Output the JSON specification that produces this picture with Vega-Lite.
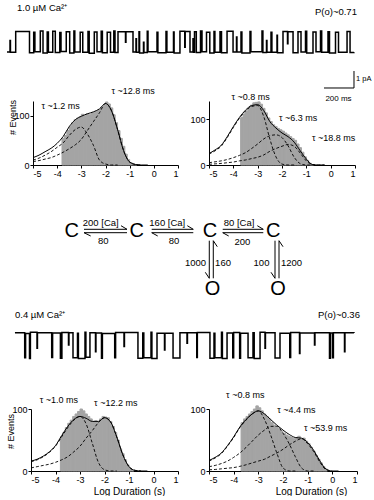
{
"$schema": "https://vega.github.io/schema/vega-lite/v6.json",
"padding": 0,
"bounds": "flush",
"spacing": 0,
"config": {
  "view": {"stroke": null},
  "font": "Liberation Sans",
  "axis": {"labelFont": "Liberation Sans", "labelFontSize": 9, "labelColor": "black", "domainColor": "black", "tickColor": "black", "grid": false, "tickSize": 3, "labelPadding": 1, "titleFont": "Liberation Sans", "titleFontWeight": "normal", "titleColor": "black", "titleFontSize": 10},
  "text": {"font": "Liberation Sans", "color": "black"}
},
"datasets": {
  "trace1": [
    {"t":0,"v":-1.18},{"t":58,"v":0.03},{"t":150,"v":-1.22},{"t":178,"v":-0.02},{"t":186,"v":-1.16},{"t":222,"v":0.05},{"t":240,"v":-1.24},{"t":268,"v":0.0},{"t":276,"v":-1.19},{"t":305,"v":0.04},{"t":322,"v":-1.21},{"t":352,"v":-0.03},{"t":360,"v":-1.15},{"t":395,"v":0.02},{"t":418,"v":-1.23},{"t":446,"v":0.05},{"t":452,"v":-1.18},{"t":488,"v":-0.01},{"t":505,"v":-1.2},{"t":540,"v":0.03},{"t":548,"v":-1.25},{"t":582,"v":0.0},{"t":600,"v":-1.17},{"t":628,"v":0.04},{"t":636,"v":-1.22},{"t":668,"v":-0.02},{"t":690,"v":-1.19},{"t":712,"v":0.05},{"t":720,"v":-1.21},{"t":740,"v":0.02},{"t":840,"v":-1.18},{"t":880,"v":0.01},{"t":884,"v":-1.23},{"t":935,"v":0.04},{"t":940,"v":-1.17},{"t":1000,"v":-0.02},{"t":1006,"v":-1.22},{"t":1060,"v":0.03},{"t":1066,"v":-1.19},{"t":1110,"v":0.0},{"t":1114,"v":-1.24},{"t":1153,"v":0.04},{"t":1220,"v":-1.18},{"t":1250,"v":0.01},{"t":1262,"v":-1.21},{"t":1290,"v":0.05},{"t":1300,"v":-1.16},{"t":1330,"v":-0.01},{"t":1352,"v":-1.23},{"t":1380,"v":0.03},{"t":1386,"v":-1.19},{"t":1420,"v":0.02},{"t":1430,"v":-1.22},{"t":1467,"v":0.04},{"t":1507,"v":-1.18},{"t":1560,"v":0.0},{"t":1566,"v":-1.24},{"t":1620,"v":0.03},{"t":1626,"v":-1.17},{"t":1700,"v":0.05},{"t":1706,"v":-1.21},{"t":1760,"v":-0.02},{"t":1766,"v":-1.19},{"t":1840,"v":0.03},{"t":1907,"v":-1.22},{"t":1940,"v":0.01},{"t":1960,"v":-1.18},{"t":1990,"v":0.04},{"t":1998,"v":-1.23},{"t":2040,"v":0.0},{"t":2060,"v":-1.17},{"t":2090,"v":0.05},{"t":2098,"v":-1.2},{"t":2140,"v":0.02},{"t":2150,"v":-1.24},{"t":2190,"v":-0.01},{"t":2210,"v":-1.19},{"t":2267,"v":0.03},{"t":2287,"v":-1.21},{"t":2313,"v":-1.2},
    {"t":20,"v":-0.5},{"t":23,"v":-1.2},{"t":860,"v":-0.4},{"t":863,"v":-1.19},{"t":910,"v":-0.6},{"t":913,"v":-1.21},{"t":1530,"v":-0.3},{"t":1533,"v":-1.18},{"t":1730,"v":-0.5},{"t":1733,"v":-1.2},{"t":1800,"v":-0.2},{"t":1803,"v":-1.22},{"t":1240,"v":-0.4},{"t":1243,"v":-1.2},{"t":790,"v":-0.6},{"t":793,"v":0.02},{"t":1185,"v":-0.9},{"t":1188,"v":0.03},{"t":1870,"v":-0.7},{"t":1873,"v":0.01}
  ],
  "trace2": [
    {"t":53,"v":0.02},{"t":118,"v":-1.45},{"t":124,"v":-0.03},{"t":150,"v":-1.5},{"t":156,"v":0.04},{"t":298,"v":-1.44},{"t":304,"v":0.0},{"t":356,"v":-1.49},{"t":366,"v":0.03},{"t":440,"v":-1.46},{"t":470,"v":-0.02},{"t":476,"v":-1.5},{"t":520,"v":0.04},{"t":526,"v":-1.43},{"t":553,"v":0.01},{"t":630,"v":-1.48},{"t":636,"v":-0.03},{"t":718,"v":-1.46},{"t":724,"v":0.03},{"t":873,"v":-1.49},{"t":905,"v":0.0},{"t":912,"v":-1.45},{"t":960,"v":0.04},{"t":966,"v":-1.5},{"t":1000,"v":-0.02},{"t":1107,"v":-1.47},{"t":1153,"v":0.02},{"t":1265,"v":-1.44},{"t":1269,"v":0.03},{"t":1353,"v":-1.49},{"t":1380,"v":-0.01},{"t":1386,"v":-1.46},{"t":1430,"v":0.04},{"t":1436,"v":-1.5},{"t":1467,"v":0.0},{"t":1505,"v":-1.45},{"t":1511,"v":0.03},{"t":1551,"v":-1.48},{"t":1557,"v":-0.02},{"t":1607,"v":-1.46},{"t":1640,"v":0.02},{"t":1648,"v":-1.5},{"t":1687,"v":0.04},{"t":1787,"v":-1.47},{"t":1820,"v":-0.01},{"t":1885,"v":-1.44},{"t":1891,"v":0.03},{"t":2150,"v":-1.49},{"t":2156,"v":0.0},{"t":2170,"v":-1.46},{"t":2176,"v":0.02},{"t":2313,"v":0.0},
    {"t":200,"v":-0.9},{"t":203,"v":0.01},{"t":410,"v":-0.7},{"t":413,"v":0.02},{"t":590,"v":-1.1},{"t":593,"v":0.0},{"t":780,"v":-0.8},{"t":783,"v":0.03},{"t":1050,"v":-1.0},{"t":1053,"v":-0.01},{"t":1200,"v":-0.6},{"t":1203,"v":0.02},{"t":1720,"v":-0.9},{"t":1723,"v":0.01},{"t":1950,"v":-1.2},{"t":1953,"v":0.0},{"t":2050,"v":-0.7},{"t":2053,"v":0.02},{"t":2250,"v":-1.1},{"t":2253,"v":0.01}
  ],
  "bars1": [
    {"t":2313.3,"v":-2.295,"t2":2313.3,"v2":-3.295},{"t":2113.3,"v":-3.295,"t2":2313.3,"v2":-3.295}
  ],
  "tl_bars": [
    {"x":-3.8,"xe":-3.7,"y":54},{"x":-3.7,"xe":-3.6,"y":60},{"x":-3.6,"xe":-3.5,"y":70},{"x":-3.5,"xe":-3.4,"y":78},{"x":-3.4,"xe":-3.3,"y":86},{"x":-3.3,"xe":-3.2,"y":92},{"x":-3.2,"xe":-3.1,"y":95},{"x":-3.1,"xe":-3.0,"y":98},{"x":-3.0,"xe":-2.9,"y":103},{"x":-2.9,"xe":-2.8,"y":100},{"x":-2.8,"xe":-2.7,"y":104},{"x":-2.7,"xe":-2.6,"y":102},{"x":-2.6,"xe":-2.5,"y":106},{"x":-2.5,"xe":-2.4,"y":107},{"x":-2.4,"xe":-2.3,"y":110},{"x":-2.3,"xe":-2.2,"y":112},{"x":-2.2,"xe":-2.1,"y":117},{"x":-2.1,"xe":-2.0,"y":121},{"x":-2.0,"xe":-1.9,"y":128},{"x":-1.9,"xe":-1.8,"y":124},{"x":-1.8,"xe":-1.7,"y":116},{"x":-1.7,"xe":-1.6,"y":102},{"x":-1.6,"xe":-1.5,"y":86},{"x":-1.5,"xe":-1.4,"y":70},{"x":-1.4,"xe":-1.3,"y":54},{"x":-1.3,"xe":-1.2,"y":38},{"x":-1.2,"xe":-1.1,"y":22},{"x":-1.1,"xe":-1.0,"y":11},{"x":-1.0,"xe":-0.9,"y":5},{"x":-0.9,"xe":-0.8,"y":2},{"x":-0.8,"xe":-0.7,"y":1}
  ],
  "tl_total": [
    {"x":-5,"y":15},{"x":-4.75,"y":20},{"x":-4.5,"y":27},{"x":-4.25,"y":34},{"x":-4,"y":44},{"x":-3.75,"y":58},{"x":-3.5,"y":78},{"x":-3.25,"y":92},{"x":-3,"y":99},{"x":-2.75,"y":104},{"x":-2.5,"y":108},{"x":-2.25,"y":114},{"x":-2,"y":125},{"x":-1.75,"y":110},{"x":-1.5,"y":72},{"x":-1.25,"y":29},{"x":-1,"y":6},{"x":-0.75,"y":1},{"x":-0.5,"y":0},{"x":-0.25,"y":0}
  ],
  "tl_comp": [
    {"c":"a","x":-5,"y":10},{"c":"a","x":-4.75,"y":14},{"c":"a","x":-4.5,"y":20},{"c":"a","x":-4.25,"y":27},{"c":"a","x":-4,"y":36},{"c":"a","x":-3.75,"y":45},{"c":"a","x":-3.5,"y":60},{"c":"a","x":-3.25,"y":72},{"c":"a","x":-3,"y":77},{"c":"a","x":-2.75,"y":63},{"c":"a","x":-2.5,"y":40},{"c":"a","x":-2.25,"y":10},{"c":"a","x":-2,"y":2},{"c":"a","x":-1.75,"y":0},{"c":"a","x":-1.5,"y":0},
    {"c":"b","x":-5,"y":7},{"c":"b","x":-4.75,"y":9},{"c":"b","x":-4.5,"y":12},{"c":"b","x":-4.25,"y":15},{"c":"b","x":-4,"y":20},{"c":"b","x":-3.75,"y":26},{"c":"b","x":-3.5,"y":33},{"c":"b","x":-3.25,"y":41},{"c":"b","x":-3,"y":52},{"c":"b","x":-2.75,"y":70},{"c":"b","x":-2.5,"y":88},{"c":"b","x":-2.25,"y":106},{"c":"b","x":-2,"y":125},{"c":"b","x":-1.75,"y":110},{"c":"b","x":-1.5,"y":72},{"c":"b","x":-1.25,"y":29},{"c":"b","x":-1,"y":6},{"c":"b","x":-0.75,"y":1},{"c":"b","x":-0.5,"y":0}
  ],
  "tl_lab": [
    {"x":-3.86,"y":119,"label":"τ ~1.2 ms"},{"x":-0.86,"y":151,"label":"τ ~12.8 ms"}
  ],
  "tr_bars": [
    {"x":-3.7,"xe":-3.6,"y":104},{"x":-3.6,"xe":-3.5,"y":112},{"x":-3.5,"xe":-3.4,"y":118},{"x":-3.4,"xe":-3.3,"y":124},{"x":-3.3,"xe":-3.2,"y":131},{"x":-3.2,"xe":-3.1,"y":136},{"x":-3.1,"xe":-3.0,"y":137},{"x":-3.0,"xe":-2.9,"y":138},{"x":-2.9,"xe":-2.8,"y":133},{"x":-2.8,"xe":-2.7,"y":124},{"x":-2.7,"xe":-2.6,"y":114},{"x":-2.6,"xe":-2.5,"y":103},{"x":-2.5,"xe":-2.4,"y":95},{"x":-2.4,"xe":-2.3,"y":88},{"x":-2.3,"xe":-2.2,"y":84},{"x":-2.2,"xe":-2.1,"y":80},{"x":-2.1,"xe":-2.0,"y":77},{"x":-2.0,"xe":-1.9,"y":74},{"x":-1.9,"xe":-1.8,"y":70},{"x":-1.8,"xe":-1.7,"y":66},{"x":-1.7,"xe":-1.6,"y":62},{"x":-1.6,"xe":-1.5,"y":58},{"x":-1.5,"xe":-1.4,"y":54},{"x":-1.4,"xe":-1.3,"y":46},{"x":-1.3,"xe":-1.2,"y":38},{"x":-1.2,"xe":-1.1,"y":28},{"x":-1.1,"xe":-1.0,"y":18},{"x":-1.0,"xe":-0.9,"y":10},{"x":-0.9,"xe":-0.8,"y":4},{"x":-0.8,"xe":-0.7,"y":1}
  ],
  "tr_total": [
    {"x":-5,"y":25},{"x":-4.75,"y":33},{"x":-4.5,"y":43},{"x":-4.25,"y":62},{"x":-4,"y":84},{"x":-3.75,"y":104},{"x":-3.5,"y":120},{"x":-3.25,"y":130},{"x":-3,"y":132},{"x":-2.75,"y":119},{"x":-2.5,"y":95},{"x":-2.25,"y":81},{"x":-2,"y":70},{"x":-1.75,"y":62},{"x":-1.5,"y":50},{"x":-1.25,"y":31},{"x":-1,"y":13},{"x":-0.75,"y":1},{"x":-0.5,"y":0},{"x":-0.25,"y":0}
  ],
  "tr_comp": [
    {"c":"a","x":-5,"y":24},{"c":"a","x":-4.75,"y":31},{"c":"a","x":-4.5,"y":41},{"c":"a","x":-4.25,"y":60},{"c":"a","x":-4,"y":82},{"c":"a","x":-3.75,"y":102},{"c":"a","x":-3.5,"y":118},{"c":"a","x":-3.25,"y":128},{"c":"a","x":-3,"y":130},{"c":"a","x":-2.75,"y":106},{"c":"a","x":-2.5,"y":57},{"c":"a","x":-2.25,"y":18},{"c":"a","x":-2,"y":2},{"c":"a","x":-1.75,"y":0},{"c":"a","x":-1.5,"y":0},
    {"c":"b","x":-5,"y":5},{"c":"b","x":-4.75,"y":7},{"c":"b","x":-4.5,"y":9},{"c":"b","x":-4.25,"y":12},{"c":"b","x":-4,"y":16},{"c":"b","x":-3.75,"y":21},{"c":"b","x":-3.5,"y":27},{"c":"b","x":-3.25,"y":36},{"c":"b","x":-3,"y":46},{"c":"b","x":-2.75,"y":57},{"c":"b","x":-2.5,"y":64},{"c":"b","x":-2.25,"y":66},{"c":"b","x":-2,"y":60},{"c":"b","x":-1.75,"y":42},{"c":"b","x":-1.5,"y":17},{"c":"b","x":-1.25,"y":3},{"c":"b","x":-1,"y":0},{"c":"b","x":-0.75,"y":0},
    {"c":"c","x":-5,"y":1.5},{"c":"c","x":-4.75,"y":2.5},{"c":"c","x":-4.5,"y":3.5},{"c":"c","x":-4.25,"y":5},{"c":"c","x":-4,"y":6.5},{"c":"c","x":-3.75,"y":9},{"c":"c","x":-3.5,"y":11},{"c":"c","x":-3.25,"y":14},{"c":"c","x":-3,"y":17},{"c":"c","x":-2.75,"y":22},{"c":"c","x":-2.5,"y":30},{"c":"c","x":-2.25,"y":36},{"c":"c","x":-2,"y":41},{"c":"c","x":-1.75,"y":45},{"c":"c","x":-1.5,"y":41},{"c":"c","x":-1.25,"y":26},{"c":"c","x":-1,"y":9},{"c":"c","x":-0.75,"y":1},{"c":"c","x":-0.5,"y":0},{"c":"c","x":-0.25,"y":0}
  ],
  "tr_lab": [
    {"x":-3.29,"y":149.5,"label":"τ ~0.8 ms"},{"x":-1.34,"y":103.5,"label":"τ ~6.3 ms"},{"x":0.12,"y":58,"label":"τ ~18.8 ms"}
  ],
  "bl_bars": [
    {"x":-3.8,"xe":-3.7,"y":55},{"x":-3.7,"xe":-3.6,"y":62},{"x":-3.6,"xe":-3.5,"y":70},{"x":-3.5,"xe":-3.4,"y":77},{"x":-3.4,"xe":-3.3,"y":82},{"x":-3.3,"xe":-3.2,"y":88},{"x":-3.2,"xe":-3.1,"y":92},{"x":-3.1,"xe":-3.0,"y":96},{"x":-3.0,"xe":-2.9,"y":100},{"x":-2.9,"xe":-2.8,"y":97},{"x":-2.8,"xe":-2.7,"y":92},{"x":-2.7,"xe":-2.6,"y":88},{"x":-2.6,"xe":-2.5,"y":84},{"x":-2.5,"xe":-2.4,"y":80},{"x":-2.4,"xe":-2.3,"y":81},{"x":-2.3,"xe":-2.2,"y":79},{"x":-2.2,"xe":-2.1,"y":84},{"x":-2.1,"xe":-2.0,"y":88},{"x":-2.0,"xe":-1.9,"y":87},{"x":-1.9,"xe":-1.8,"y":86},{"x":-1.8,"xe":-1.7,"y":80},{"x":-1.7,"xe":-1.6,"y":72},{"x":-1.6,"xe":-1.5,"y":62},{"x":-1.5,"xe":-1.4,"y":50},{"x":-1.4,"xe":-1.3,"y":36},{"x":-1.3,"xe":-1.2,"y":28},{"x":-1.2,"xe":-1.1,"y":18},{"x":-1.1,"xe":-1.0,"y":10},{"x":-1.0,"xe":-0.9,"y":4},{"x":-0.9,"xe":-0.8,"y":1}
  ],
  "bl_total": [
    {"x":-5,"y":16},{"x":-4.75,"y":19},{"x":-4.5,"y":24},{"x":-4.25,"y":31},{"x":-4,"y":41},{"x":-3.75,"y":57},{"x":-3.5,"y":72},{"x":-3.25,"y":83},{"x":-3,"y":88},{"x":-2.75,"y":85},{"x":-2.5,"y":80},{"x":-2.25,"y":80},{"x":-2,"y":86},{"x":-1.75,"y":79},{"x":-1.5,"y":55},{"x":-1.25,"y":26},{"x":-1,"y":7},{"x":-0.75,"y":1},{"x":-0.5,"y":0},{"x":-0.25,"y":0}
  ],
  "bl_comp": [
    {"c":"a","x":-5,"y":15},{"c":"a","x":-4.75,"y":18},{"c":"a","x":-4.5,"y":23},{"c":"a","x":-4.25,"y":30},{"c":"a","x":-4,"y":40},{"c":"a","x":-3.75,"y":55},{"c":"a","x":-3.5,"y":70},{"c":"a","x":-3.25,"y":82},{"c":"a","x":-3,"y":88},{"c":"a","x":-2.75,"y":76},{"c":"a","x":-2.5,"y":45},{"c":"a","x":-2.25,"y":14},{"c":"a","x":-2,"y":2},{"c":"a","x":-1.75,"y":0},{"c":"a","x":-1.5,"y":0},
    {"c":"b","x":-5,"y":5},{"c":"b","x":-4.75,"y":7},{"c":"b","x":-4.5,"y":9},{"c":"b","x":-4.25,"y":11},{"c":"b","x":-4,"y":14},{"c":"b","x":-3.75,"y":18},{"c":"b","x":-3.5,"y":23},{"c":"b","x":-3.25,"y":31},{"c":"b","x":-3,"y":40},{"c":"b","x":-2.75,"y":53},{"c":"b","x":-2.5,"y":65},{"c":"b","x":-2.25,"y":78},{"c":"b","x":-2,"y":86},{"c":"b","x":-1.75,"y":79},{"c":"b","x":-1.5,"y":55},{"c":"b","x":-1.25,"y":26},{"c":"b","x":-1,"y":7},{"c":"b","x":-0.75,"y":1},{"c":"b","x":-0.5,"y":0}
  ],
  "bl_lab": [
    {"x":-3.86,"y":114.5,"label":"τ ~1.0 ms"},{"x":-1.54,"y":109,"label":"τ ~12.2 ms"}
  ],
  "br_bars": [
    {"x":-3.7,"xe":-3.6,"y":78},{"x":-3.6,"xe":-3.5,"y":84},{"x":-3.5,"xe":-3.4,"y":88},{"x":-3.4,"xe":-3.3,"y":92},{"x":-3.3,"xe":-3.2,"y":96},{"x":-3.2,"xe":-3.1,"y":100},{"x":-3.1,"xe":-3.0,"y":105},{"x":-3.0,"xe":-2.9,"y":102},{"x":-2.9,"xe":-2.8,"y":97},{"x":-2.8,"xe":-2.7,"y":92},{"x":-2.7,"xe":-2.6,"y":88},{"x":-2.6,"xe":-2.5,"y":84},{"x":-2.5,"xe":-2.4,"y":78},{"x":-2.4,"xe":-2.3,"y":74},{"x":-2.3,"xe":-2.2,"y":70},{"x":-2.2,"xe":-2.1,"y":68},{"x":-2.1,"xe":-2.0,"y":64},{"x":-2.0,"xe":-1.9,"y":61},{"x":-1.9,"xe":-1.8,"y":58},{"x":-1.8,"xe":-1.7,"y":56},{"x":-1.7,"xe":-1.6,"y":54},{"x":-1.6,"xe":-1.5,"y":52},{"x":-1.5,"xe":-1.4,"y":54},{"x":-1.4,"xe":-1.3,"y":56},{"x":-1.3,"xe":-1.2,"y":52},{"x":-1.2,"xe":-1.1,"y":53},{"x":-1.1,"xe":-1.0,"y":48},{"x":-1.0,"xe":-0.9,"y":44},{"x":-0.9,"xe":-0.8,"y":38},{"x":-0.8,"xe":-0.7,"y":32},{"x":-0.7,"xe":-0.6,"y":25},{"x":-0.6,"xe":-0.5,"y":19},{"x":-0.5,"xe":-0.4,"y":13},{"x":-0.4,"xe":-0.3,"y":7},{"x":-0.3,"xe":-0.2,"y":3}
  ],
  "br_total": [
    {"x":-5,"y":17},{"x":-4.75,"y":22},{"x":-4.5,"y":29},{"x":-4.25,"y":41},{"x":-4,"y":55},{"x":-3.75,"y":71},{"x":-3.5,"y":83},{"x":-3.25,"y":92},{"x":-3,"y":97},{"x":-2.75,"y":92},{"x":-2.5,"y":83},{"x":-2.25,"y":74},{"x":-2,"y":66},{"x":-1.75,"y":59},{"x":-1.5,"y":54},{"x":-1.25,"y":53},{"x":-1,"y":46},{"x":-0.75,"y":33},{"x":-0.5,"y":16},{"x":-0.25,"y":3},{"x":0,"y":0},{"x":0.25,"y":0}
  ],
  "br_comp": [
    {"c":"a","x":-5,"y":16},{"c":"a","x":-4.75,"y":21},{"c":"a","x":-4.5,"y":28},{"c":"a","x":-4.25,"y":40},{"c":"a","x":-4,"y":54},{"c":"a","x":-3.75,"y":70},{"c":"a","x":-3.5,"y":82},{"c":"a","x":-3.25,"y":92},{"c":"a","x":-3,"y":97},{"c":"a","x":-2.75,"y":83},{"c":"a","x":-2.5,"y":58},{"c":"a","x":-2.25,"y":29},{"c":"a","x":-2,"y":5},{"c":"a","x":-1.75,"y":0},{"c":"a","x":-1.5,"y":0},
    {"c":"b","x":-5,"y":7},{"c":"b","x":-4.75,"y":9},{"c":"b","x":-4.5,"y":12},{"c":"b","x":-4.25,"y":16},{"c":"b","x":-4,"y":22},{"c":"b","x":-3.75,"y":29},{"c":"b","x":-3.5,"y":38},{"c":"b","x":-3.25,"y":48},{"c":"b","x":-3,"y":58},{"c":"b","x":-2.75,"y":66},{"c":"b","x":-2.5,"y":72},{"c":"b","x":-2.25,"y":72},{"c":"b","x":-2,"y":61},{"c":"b","x":-1.75,"y":44},{"c":"b","x":-1.5,"y":23},{"c":"b","x":-1.25,"y":5},{"c":"b","x":-1,"y":0},{"c":"b","x":-0.75,"y":0},
    {"c":"c","x":-5,"y":2},{"c":"c","x":-4.75,"y":2.5},{"c":"c","x":-4.5,"y":3.5},{"c":"c","x":-4.25,"y":4.5},{"c":"c","x":-4,"y":5.5},{"c":"c","x":-3.75,"y":7.5},{"c":"c","x":-3.5,"y":10},{"c":"c","x":-3.25,"y":13},{"c":"c","x":-3,"y":16},{"c":"c","x":-2.75,"y":19},{"c":"c","x":-2.5,"y":24},{"c":"c","x":-2.25,"y":29},{"c":"c","x":-2,"y":35},{"c":"c","x":-1.75,"y":42},{"c":"c","x":-1.5,"y":48},{"c":"c","x":-1.25,"y":52},{"c":"c","x":-1,"y":44},{"c":"c","x":-0.75,"y":31},{"c":"c","x":-0.5,"y":14},{"c":"c","x":-0.25,"y":2},{"c":"c","x":0,"y":0}
  ],
  "br_lab": [
    {"x":-3.53,"y":122.6,"label":"τ ~0.8 ms"},{"x":-1.46,"y":98,"label":"τ ~4.4 ms"},{"x":-0.27,"y":69,"label":"τ ~53.9 ms"}
  ],
  "states": [
    {"x":19.17,"y":50.74,"label":"C"},{"x":36.55,"y":50.74,"label":"C"},{"x":56.15,"y":50.74,"label":"C"},{"x":73.08,"y":50.74,"label":"C"},{"x":56.82,"y":8.15,"label":"O"},{"x":74.33,"y":8.15,"label":"O"}
  ],
  "rates": [
    {"x":26.93,"y":56.81,"label":"200 [Ca]"},{"x":27.62,"y":43.93,"label":"80"},{"x":44.73,"y":56.81,"label":"160 [Ca]"},{"x":46.52,"y":43.93,"label":"80"},{"x":63.9,"y":56.81,"label":"80 [Ca]"},{"x":64.79,"y":43.19,"label":"200"},{"x":52.27,"y":27.19,"label":"1000"},{"x":59.63,"y":27.19,"label":"160"},{"x":69.92,"y":27.19,"label":"100"},{"x":77.94,"y":27.19,"label":"1200"}
  ],
  "arrows": [
    {"x":22.46,"y":52.37,"x2":33.96,"y2":52.37},{"x":32.35,"y":55.04,"x2":33.96,"y2":52.37},{"x":22.46,"y":49.85,"x2":33.96,"y2":49.85},{"x":22.46,"y":49.85,"x2":24.25,"y2":47.41},
    {"x":40.56,"y":52.37,"x2":51.68,"y2":52.37},{"x":50.08,"y":55.04,"x2":51.68,"y2":52.37},{"x":40.56,"y":49.85,"x2":51.68,"y2":49.85},{"x":40.56,"y":49.85,"x2":42.17,"y2":47.41},
    {"x":59.55,"y":52.37,"x2":70.4,"y2":52.37},{"x":68.8,"y":55.04,"x2":70.4,"y2":52.37},{"x":59.55,"y":49.85,"x2":70.4,"y2":49.85},{"x":59.55,"y":49.85,"x2":61.15,"y2":47.41},
    {"x":55.96,"y":43.93,"x2":55.96,"y2":16.07},{"x":54.89,"y":20.52,"x2":55.96,"y2":16.07},{"x":57.03,"y":43.93,"x2":57.03,"y2":16.07},{"x":58.1,"y":39.48,"x2":57.03,"y2":43.93},
    {"x":73.53,"y":43.93,"x2":73.53,"y2":16.07},{"x":72.46,"y":20.52,"x2":73.53,"y2":16.07},{"x":74.6,"y":43.93,"x2":74.6,"y2":16.07},{"x":75.67,"y":39.48,"x2":74.6,"y2":43.93}
  ]
},
"vconcat": [
  {
    "width": 374, "height": 101,
    "encoding": {
      "x": {"field": "t", "type": "quantitative", "scale": {"domain": [-46.67, 2446.67], "nice": false, "zero": false}, "axis": null},
      "y": {"field": "v", "type": "quantitative", "scale": {"domain": [-4.06, 1.88], "nice": false, "zero": false}, "axis": null}
    },
    "layer": [
      {"data": {"name": "trace1"}, "mark": {"type": "line", "interpolate": "step-after", "color": "black", "strokeWidth": 1.5}},
      {"data": {"name": "bars1"}, "mark": {"type": "rule", "color": "black", "strokeWidth": 1}, "encoding": {"x2": {"field": "t2"}, "y2": {"field": "v2"}}},
      {"data": {"values": [{"t": 66.7, "v": 1.41, "label": "1.0 µM Ca²⁺"}]}, "mark": {"type": "text", "align": "left", "baseline": "middle", "fontSize": 9.5}, "encoding": {"text": {"field": "label"}}},
      {"data": {"values": [{"t": 2326.7, "v": -2.77, "label": "1 pA"}]}, "mark": {"type": "text", "align": "left", "baseline": "middle", "fontSize": 7.5}, "encoding": {"text": {"field": "label"}}},
      {"data": {"values": [{"t": 2333, "v": 1.174, "label": "P(o)~0.71"}]}, "mark": {"type": "text", "align": "right", "baseline": "middle", "fontSize": 9.5}, "encoding": {"text": {"field": "label"}}},
      {"data": {"values": [{"t": 2210, "v": -3.94, "label": "200 ms"}]}, "mark": {"type": "text", "align": "center", "baseline": "middle", "fontSize": 8}, "encoding": {"text": {"field": "label"}}}
    ]
  },
  {
    "bounds": "flush", "spacing": 0,
    "hconcat": [
      {"width": 33, "height": 64, "data": {"values": [{}]}, "mark": {"type": "text", "text": ""}, "encoding": {}},
      {
        "width": 145, "height": 64,
        "encoding": {
          "x": {"field": "x", "type": "quantitative", "scale": {"domain": [-5, 1], "nice": false, "zero": false}, "axis": {"values": [-5, -4, -3, -2, -1, 0, 1], "title": null, "labelExpr": "datum.value"}},
          "y": {"field": "y", "type": "quantitative", "scale": {"domain": [0, 130], "nice": false}, "axis": {"values": [0, 100], "title": "# Events", "titleX": -21, "titleY": 16, "titleBaseline": "middle", "titleAlign": "center", "titleFontSize": 9}}
        },
        "layer": [
          {"data": {"name": "tl_bars"}, "mark": {"type": "rect", "fill": "#a4a4a4", "stroke": "#a4a4a4", "strokeWidth": 1}, "encoding": {"x2": {"field": "xe"}, "y2": {"datum": 0}}},
          {"data": {"name": "tl_comp"}, "mark": {"type": "line", "color": "black", "strokeWidth": 0.9, "strokeDash": [3, 2], "interpolate": "monotone"}, "encoding": {"detail": {"field": "c"}}},
          {"data": {"name": "tl_total"}, "mark": {"type": "line", "color": "black", "strokeWidth": 1, "interpolate": "monotone"}},
          {"data": {"name": "tl_lab"}, "mark": {"type": "text", "fontSize": 9, "baseline": "middle"}, "encoding": {"text": {"field": "label"}}}
        ]
      },
      {"width": 31, "height": 64, "data": {"values": [{}]}, "mark": {"type": "text", "text": ""}, "encoding": {}},
      {
        "width": 146, "height": 64,
        "encoding": {
          "x": {"field": "x", "type": "quantitative", "scale": {"domain": [-5, 1], "nice": false, "zero": false}, "axis": {"values": [-5, -4, -3, -2, -1, 0, 1], "title": null, "labelExpr": "datum.value"}},
          "y": {"field": "y", "type": "quantitative", "scale": {"domain": [0, 140], "nice": false}, "axis": {"values": [0, 100], "title": null}}
        },
        "layer": [
          {"data": {"name": "tr_bars"}, "mark": {"type": "rect", "fill": "#a4a4a4", "stroke": "#a4a4a4", "strokeWidth": 1}, "encoding": {"x2": {"field": "xe"}, "y2": {"datum": 0}}},
          {"data": {"name": "tr_comp"}, "mark": {"type": "line", "color": "black", "strokeWidth": 0.9, "strokeDash": [3, 2], "interpolate": "monotone"}, "encoding": {"detail": {"field": "c"}}},
          {"data": {"name": "tr_total"}, "mark": {"type": "line", "color": "black", "strokeWidth": 1, "interpolate": "monotone"}},
          {"data": {"name": "tr_lab"}, "mark": {"type": "text", "fontSize": 9, "baseline": "middle"}, "encoding": {"text": {"field": "label"}}}
        ]
      }
    ]
  },
  {
    "width": 374, "height": 199,
    "encoding": {
      "x": {"field": "x", "type": "quantitative", "scale": {"domain": [0, 100], "nice": false, "zero": false}, "axis": null},
      "y": {"field": "y", "type": "quantitative", "scale": {"domain": [0, 147.4], "nice": false, "zero": false}, "axis": null}
    },
    "layer": [
      {"data": {"name": "arrows"}, "mark": {"type": "rule", "color": "black", "strokeWidth": 1}, "encoding": {"x2": {"field": "x2"}, "y2": {"field": "y2"}}},
      {"data": {"name": "states"}, "mark": {"type": "text", "fontSize": 20, "baseline": "middle", "align": "center"}, "encoding": {"text": {"field": "label"}}},
      {"data": {"name": "rates"}, "mark": {"type": "text", "fontSize": 9.5, "baseline": "middle", "align": "center"}, "encoding": {"text": {"field": "label"}}}
    ]
  },
  {
    "width": 374, "height": 109,
    "encoding": {
      "x": {"field": "t", "type": "quantitative", "scale": {"domain": [-46.67, 2446.67], "nice": false, "zero": false}, "axis": null},
      "y": {"field": "v", "type": "quantitative", "scale": {"domain": [-4.47, 1.94], "nice": false, "zero": false}, "axis": null}
    },
    "layer": [
      {"data": {"name": "trace2"}, "mark": {"type": "line", "interpolate": "step-after", "color": "black", "strokeWidth": 1.5}},
      {"data": {"values": [{"t": 53.3, "v": 1.058, "label": "0.4 µM Ca²⁺"}]}, "mark": {"type": "text", "align": "left", "baseline": "middle", "fontSize": 9.5}, "encoding": {"text": {"field": "label"}}},
      {"data": {"values": [{"t": 2353, "v": 1.058, "label": "P(o)~0.36"}]}, "mark": {"type": "text", "align": "right", "baseline": "middle", "fontSize": 9.5}, "encoding": {"text": {"field": "label"}}}
    ]
  },
  {
    "bounds": "flush", "spacing": 0,
    "hconcat": [
      {"width": 31, "height": 62, "data": {"values": [{}]}, "mark": {"type": "text", "text": ""}, "encoding": {}},
      {
        "width": 147, "height": 62,
        "encoding": {
          "x": {"field": "x", "type": "quantitative", "scale": {"domain": [-5, 1], "nice": false, "zero": false}, "axis": {"values": [-5, -4, -3, -2, -1, 0, 1], "title": "Log Duration (s)", "labelExpr": "datum.value", "titleX": 98, "titleY": 20, "titleBaseline": "middle", "titleAlign": "center"}},
          "y": {"field": "y", "type": "quantitative", "scale": {"domain": [0, 100], "nice": false}, "axis": {"values": [0, 100], "title": "# Events", "titleX": -21, "titleY": 22, "titleBaseline": "middle", "titleAlign": "center", "titleFontSize": 9}}
        },
        "layer": [
          {"data": {"name": "bl_bars"}, "mark": {"type": "rect", "fill": "#a4a4a4", "stroke": "#a4a4a4", "strokeWidth": 1}, "encoding": {"x2": {"field": "xe"}, "y2": {"datum": 0}}},
          {"data": {"name": "bl_comp"}, "mark": {"type": "line", "color": "black", "strokeWidth": 0.9, "strokeDash": [3, 2], "interpolate": "monotone"}, "encoding": {"detail": {"field": "c"}}},
          {"data": {"name": "bl_total"}, "mark": {"type": "line", "color": "black", "strokeWidth": 1, "interpolate": "monotone"}},
          {"data": {"name": "bl_lab"}, "mark": {"type": "text", "fontSize": 9, "baseline": "middle"}, "encoding": {"text": {"field": "label"}}}
        ]
      },
      {"width": 31, "height": 62, "data": {"values": [{}]}, "mark": {"type": "text", "text": ""}, "encoding": {}},
      {
        "width": 148, "height": 62,
        "encoding": {
          "x": {"field": "x", "type": "quantitative", "scale": {"domain": [-5, 1], "nice": false, "zero": false}, "axis": {"values": [-5, -4, -3, -2, -1, 0, 1], "title": "Log Duration (s)", "labelExpr": "datum.value", "titleX": 102, "titleY": 20, "titleBaseline": "middle", "titleAlign": "center"}},
          "y": {"field": "y", "type": "quantitative", "scale": {"domain": [0, 100], "nice": false}, "axis": {"values": [0, 100], "title": null}}
        },
        "layer": [
          {"data": {"name": "br_bars"}, "mark": {"type": "rect", "fill": "#a4a4a4", "stroke": "#a4a4a4", "strokeWidth": 1}, "encoding": {"x2": {"field": "xe"}, "y2": {"datum": 0}}},
          {"data": {"name": "br_comp"}, "mark": {"type": "line", "color": "black", "strokeWidth": 0.9, "strokeDash": [3, 2], "interpolate": "monotone"}, "encoding": {"detail": {"field": "c"}}},
          {"data": {"name": "br_total"}, "mark": {"type": "line", "color": "black", "strokeWidth": 1, "interpolate": "monotone"}},
          {"data": {"name": "br_lab"}, "mark": {"type": "text", "fontSize": 9, "baseline": "middle"}, "encoding": {"text": {"field": "label"}}}
        ]
      }
    ]
  }
]
}
